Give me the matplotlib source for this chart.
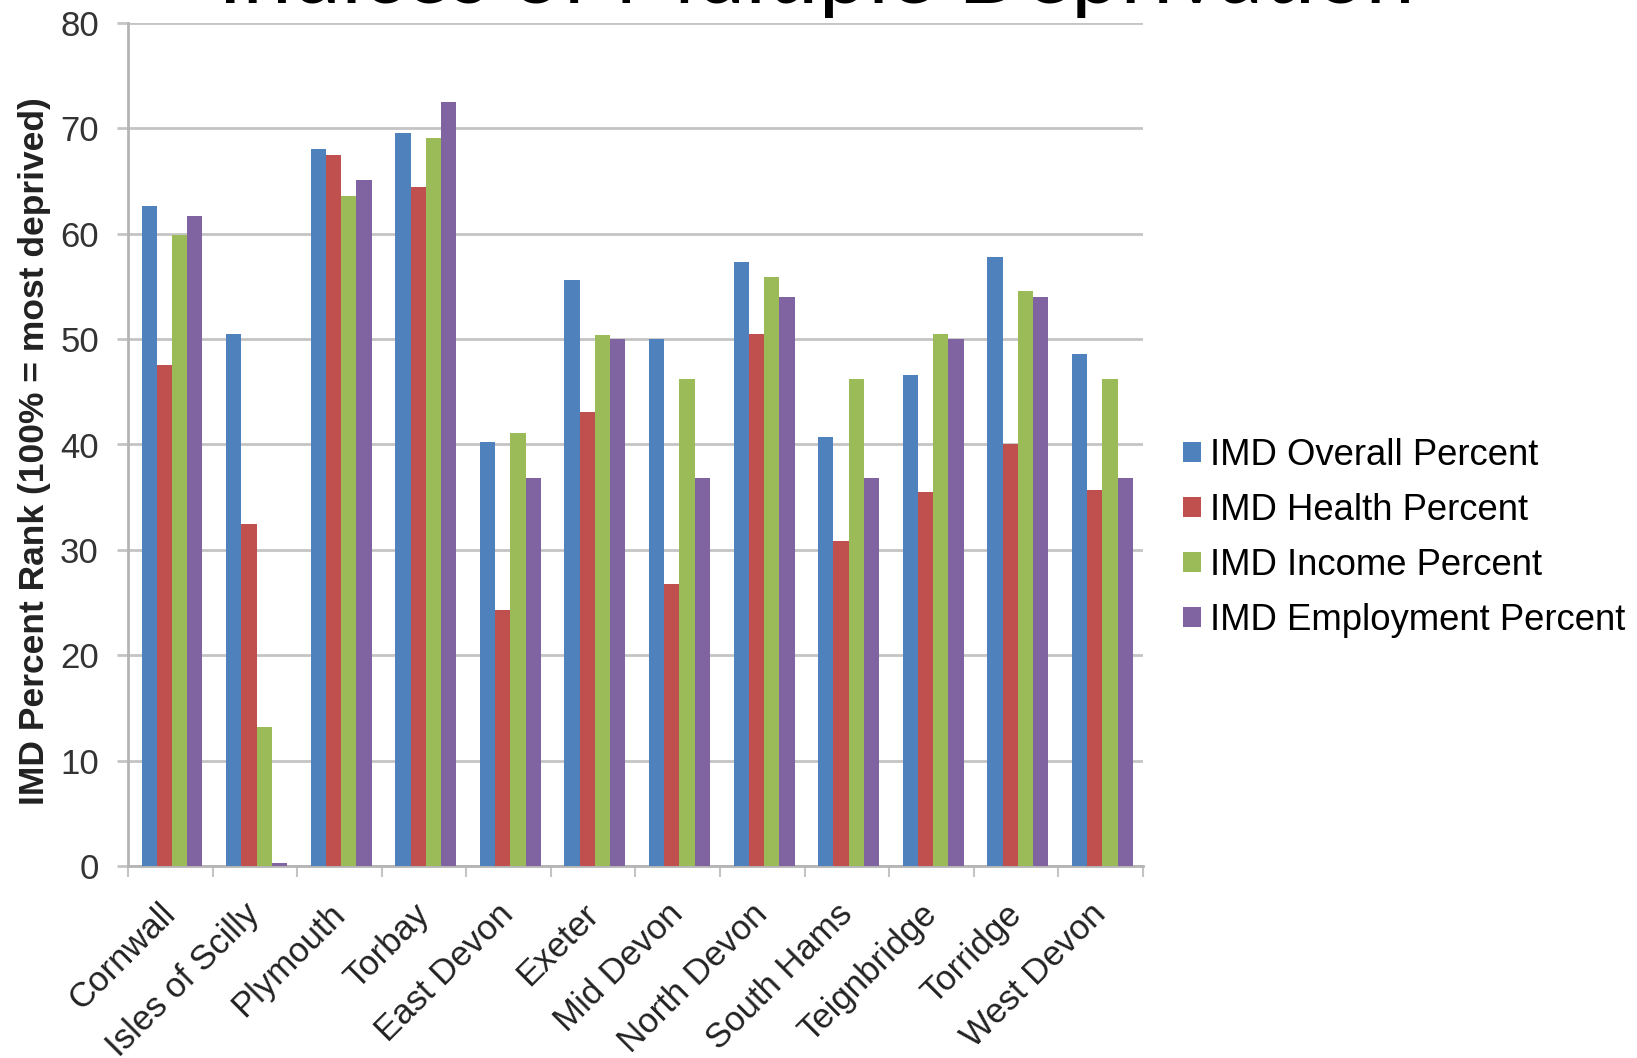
import numpy as np
import matplotlib
matplotlib.use("Agg")
import matplotlib.pyplot as plt
from matplotlib.transforms import ScaledTranslation

areas = ["Cornwall", "Isles of Scilly", "Plymouth", "Torbay", "East Devon", "Exeter",
         "Mid Devon", "North Devon", "South Hams", "Teignbridge", "Torridge", "West Devon"]
overall = [62.6, 50.5, 68.0, 69.6, 40.2, 55.6, 50.0, 57.3, 40.7, 46.6, 57.8, 48.6]
health = [47.5, 32.5, 67.5, 64.4, 24.3, 43.1, 26.8, 50.5, 30.8, 35.5, 40.0, 35.7]
income = [59.9, 13.2, 63.6, 69.1, 41.1, 50.4, 46.2, 55.9, 46.2, 50.5, 54.6, 46.2]
employment = [61.7, 0.3, 65.1, 72.5, 36.8, 50.0, 36.8, 54.0, 36.8, 50.0, 54.0, 36.8]
series_names = ["IMD Overall Percent", "IMD Health Percent", "IMD Income Percent", "IMD Employment Percent"]
colors = ["#4F81BD", "#C0504D", "#9BBB59", "#8064A2"]

plt.rcParams['font.family'] = ['Liberation Sans', 'DejaVu Sans']

W, H = 1637, 1058
fig = plt.figure(figsize=(W / 100, H / 100), dpi=100)
ax = fig.add_axes([128 / W, 1 - 866 / H, (1143 - 128) / W, (866 - 23) / H])

x = np.arange(len(areas))
bw = 0.18
for i, (vals, name) in enumerate(zip([overall, health, income, employment], series_names)):
    ax.bar(x + (i - 1.5) * bw + 0.02, vals, width=bw, color=colors[i], label=name, zorder=3)

ax.set_xlim(-0.5, len(areas) - 0.5)
ax.set_ylim(0, 80)
ax.set_yticks(range(0, 81, 10))
ax.yaxis.grid(True, color="#C4C4C4", linewidth=2, zorder=0)
ax.tick_params(axis='y', labelsize=25, length=8, color="#C4C4C4", width=2, pad=13, labelcolor="#333333")

ax.set_xticks(x)
labels = ax.set_xticklabels(areas, rotation=45, ha='right', va='center', rotation_mode='anchor')
shift = ScaledTranslation(14 / 100, 0, fig.dpi_scale_trans)
for lab in labels:
    lab.set_transform(lab.get_transform() + shift)
ax.set_xticks(np.arange(-0.5, len(areas)), minor=True)
ax.tick_params(axis='x', which='major', length=0, labelsize=25, pad=31, labelcolor="#222222")
ax.tick_params(axis='x', which='minor', length=8, color="#C4C4C4", width=1.5)

for s in ["top", "right"]:
    ax.spines[s].set_visible(False)
for s in ["left", "bottom"]:
    ax.spines[s].set_color("#B4B4B4")
    ax.spines[s].set_linewidth(2)

fig.text(35 / W, 1 - 451 / H, "IMD Percent Rank (100% = most deprived)", rotation=90,
         ha='center', va='center', fontsize=25.5, fontweight='bold', color="#222222")

fig.legend(loc='center left', bbox_to_anchor=(1183 / W, 1 - 538 / H), frameon=False,
           fontsize=26.3, handlelength=0.5, handleheight=0.45, handletextpad=0.25,
           labelspacing=0.55, borderpad=0, borderaxespad=0)

# title sits mostly above the canvas, as in the cropped original
fig.text(816 / W, 1 - 3 / H, "Indices of Multiple Deprivation", ha='center', va='baseline',
         fontsize=63.4, family=['Lato', 'DejaVu Sans'], color="black")

fig.savefig("out.png", dpi=100)
